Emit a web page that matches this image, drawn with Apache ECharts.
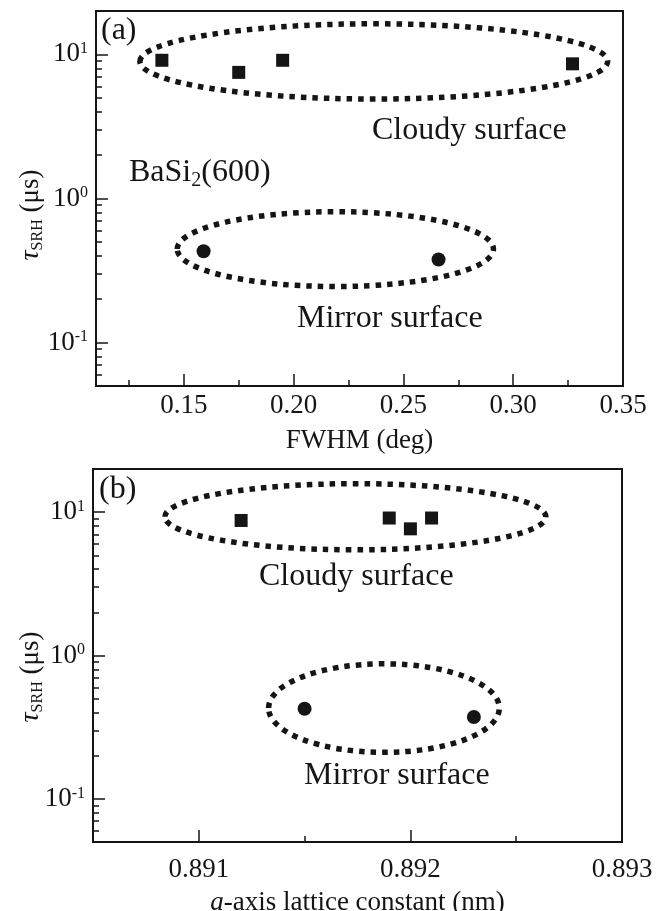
<!DOCTYPE html>
<html><head><meta charset="utf-8">
<script src="https://cdn.jsdelivr.net/npm/echarts@6/dist/echarts.min.js"></script>
<style>html,body{margin:0;padding:0;background:#fff}#c{width:662px;height:911px}</style>
</head><body><div id="c"></div>
<script>
// ---------- Panel (a): tau_SRH vs FWHM ----------
const fwhmCloudy = [0.140, 0.175, 0.195, 0.327];
const tauCloudyA = [9.1, 7.5, 9.1, 8.6];
const fwhmMirror = [0.159, 0.266];
const tauMirrorA = [0.43, 0.377];
// ---------- Panel (b): tau_SRH vs a-axis lattice constant ----------
const latticeCloudy = [0.8912, 0.8919, 0.8920, 0.8921];
const tauCloudyB = [8.75, 9.1, 7.65, 9.1];
const latticeMirror = [0.8915, 0.8923];
const tauMirrorB = [0.425, 0.372];
// ---------- tick values ----------
const xLabelsA = [0.15, 0.20, 0.25, 0.30, 0.35];
const xMajorA = [0.15, 0.20, 0.25, 0.30];
const xMinorA = [0.125, 0.175, 0.225, 0.275, 0.325];
const xLabelsB = [0.891, 0.892, 0.893];
const xMajorB = [0.891, 0.892];
const xMinorB = [0.8915, 0.8925];
const yDecades = [0.1, 1, 10];
const yMinor = [0.06, 0.07, 0.08, 0.09, 0.2, 0.3, 0.4, 0.5, 0.6, 0.7, 0.8, 0.9, 2, 3, 4, 5, 6, 7, 8, 9];
// ---------- group outlines (extent in data units: x range, tau range) ----------
const groupCloudyA = { x: [0.130, 0.343], y: [4.9, 16.3] };
const groupMirrorA = { x: [0.147, 0.291], y: [0.245, 0.81] };
const groupCloudyB = { x: [0.89084, 0.89264], y: [5.46, 15.8] };
const groupMirrorB = { x: [0.89133, 0.89242], y: [0.211, 0.875] };

const FF = "'Liberation Serif','Times New Roman',serif";
const INK = '#151515';
const chart = echarts.init(document.getElementById('c'), null, { renderer: 'canvas' });

const supRich = {
  b: { fontSize: 27, lineHeight: 27, fontFamily: FF, color: INK },
  s: { fontSize: 16, lineHeight: 14, fontFamily: FF, color: INK, verticalAlign: 'top' }
};
function yAxes(gridIndex) {
  return [{
    type: 'log', gridIndex, min: 0.05, max: 20, logBase: 10,
    axisLine: { show: true, onZero: false, lineStyle: { color: INK, width: 2 } },
    axisTick: { show: true, inside: true, length: 12, customValues: yDecades, lineStyle: { color: INK, width: 1.5 } },
    axisLabel: { show: true, margin: 8, customValues: yDecades, rich: supRich,
      formatter: v => '{b|10}{s|' + Math.round(Math.log10(v)) + '}' },
    splitLine: { show: false }, minorTick: { show: false }
  }, {
    type: 'log', gridIndex, min: 0.05, max: 20, logBase: 10, position: 'left', offset: 0,
    axisLine: { show: false },
    axisTick: { show: true, inside: true, length: 6, customValues: yMinor, lineStyle: { color: INK, width: 1.5 } },
    axisLabel: { show: false }, splitLine: { show: false }
  }];
}
function xAxes(gridIndex, min, max, labels, major, minor, dec, name, nameGap, margin, nameRich) {
  return [{
    type: 'value', gridIndex, min, max, position: 'bottom',
    name, nameLocation: 'middle', nameGap,
    nameTextStyle: { fontSize: 27, fontFamily: FF, color: INK, rich: nameRich },
    axisLine: { show: true, onZero: false, lineStyle: { color: INK, width: 2 } },
    axisTick: { show: true, inside: true, length: 12, customValues: major, lineStyle: { color: INK, width: 1.5 } },
    axisLabel: { show: true, margin, customValues: labels, fontSize: 27, fontFamily: FF, color: INK,
      formatter: v => Number(v).toFixed(dec) },
    splitLine: { show: false }
  }, {
    type: 'value', gridIndex, min, max, position: 'bottom', offset: 0,
    axisLine: { show: false },
    axisTick: { show: true, inside: true, length: 6, customValues: minor, lineStyle: { color: INK, width: 1.5 } },
    axisLabel: { show: false }, splitLine: { show: false }
  }];
}
const pts = (xs, ys) => xs.map((x, i) => [x, ys[i]]);
const sq = { type: 'scatter', symbol: 'rect', symbolSize: 13, itemStyle: { color: INK, opacity: 1 }, z: 5 };
const ci = { type: 'scatter', symbol: 'circle', symbolSize: 14, itemStyle: { color: INK, opacity: 1 }, z: 5 };

chart.setOption({
  animation: false,
  grid: [
    { left: 96, top: 11, width: 527, height: 375, show: true, borderColor: INK, borderWidth: 2,
      containLabel: false, outerBoundsMode: 'none' },
    { left: 93, top: 469, width: 529, height: 373, show: true, borderColor: INK, borderWidth: 2,
      containLabel: false, outerBoundsMode: 'none' }
  ],
  xAxis: [
    ...xAxes(0, 0.11, 0.35, xLabelsA, xMajorA, xMinorA, 2, 'FWHM (deg)', 41, 6),
    ...xAxes(1, 0.8905, 0.893, xLabelsB, xMajorB, xMinorB, 3, '{i|a}-axis lattice constant (nm)', 47, 14,
      { i: { fontSize: 27, fontFamily: FF, fontStyle: 'italic', color: INK } })
  ],
  yAxis: [...yAxes(0), ...yAxes(1)],
  series: [
    { ...sq, xAxisIndex: 0, yAxisIndex: 0, data: pts(fwhmCloudy, tauCloudyA) },
    { ...ci, xAxisIndex: 0, yAxisIndex: 0, data: pts(fwhmMirror, tauMirrorA) },
    { ...sq, xAxisIndex: 2, yAxisIndex: 2, data: pts(latticeCloudy, tauCloudyB) },
    { ...ci, xAxisIndex: 2, yAxisIndex: 2, data: pts(latticeMirror, tauMirrorB) }
  ]
});

function outline(g, ax) {
  const f = { xAxisIndex: ax, yAxisIndex: ax };
  const p1 = chart.convertToPixel(f, [g.x[0], g.y[1]]);
  const p2 = chart.convertToPixel(f, [g.x[1], g.y[0]]);
  return {
    type: 'ellipse', silent: true, z: 3,
    shape: { cx: (p1[0] + p2[0]) / 2, cy: (p1[1] + p2[1]) / 2, rx: Math.abs(p2[0] - p1[0]) / 2, ry: Math.abs(p2[1] - p1[1]) / 2 },
    style: { fill: 'rgba(0,0,0,0)', stroke: INK, lineWidth: 5.5, lineDash: [5.5, 6] }
  };
}
function label(text, x, y, rich) {
  return { type: 'text', x, y, silent: true, z: 6,
    style: { text, fontSize: 32, fontFamily: FF, fill: INK, align: 'left', verticalAlign: 'middle', rich } };
}
const yTitleRich = {
  t: { fontSize: 28, fontFamily: FF, fontStyle: 'italic', fill: INK, lineHeight: 30 },
  s: { fontSize: 16, fontFamily: FF, fill: INK, lineHeight: 8, verticalAlign: 'bottom' },
  n: { fontSize: 27, fontFamily: FF, fill: INK, lineHeight: 30 }
};
function yTitle(x, y) {
  return { type: 'text', x, y, rotation: Math.PI / 2, silent: true,
    style: { text: '{t|τ}{s|SRH}{n| (μs)}', rich: yTitleRich, align: 'center', verticalAlign: 'middle' } };
}
chart.setOption({
  graphic: [
    outline(groupCloudyA, 0), outline(groupMirrorA, 0),
    outline(groupCloudyB, 2), outline(groupMirrorB, 2),
    label('(a)', 101, 31),
    label('Cloudy surface', 372, 131),
    label('{n|BaSi}{s|2}{n|(600)}', 129, 173, {
      n: { fontSize: 32, fontFamily: FF, fill: INK, lineHeight: 36 },
      s: { fontSize: 20, fontFamily: FF, fill: INK, lineHeight: 12, verticalAlign: 'bottom' }
    }),
    label('Mirror surface', 297, 319),
    label('(b)', 99, 490),
    label('Cloudy surface', 259, 577),
    label('Mirror surface', 304, 776),
    yTitle(31, 215),
    yTitle(31, 677)
  ]
});
</script></body></html>
